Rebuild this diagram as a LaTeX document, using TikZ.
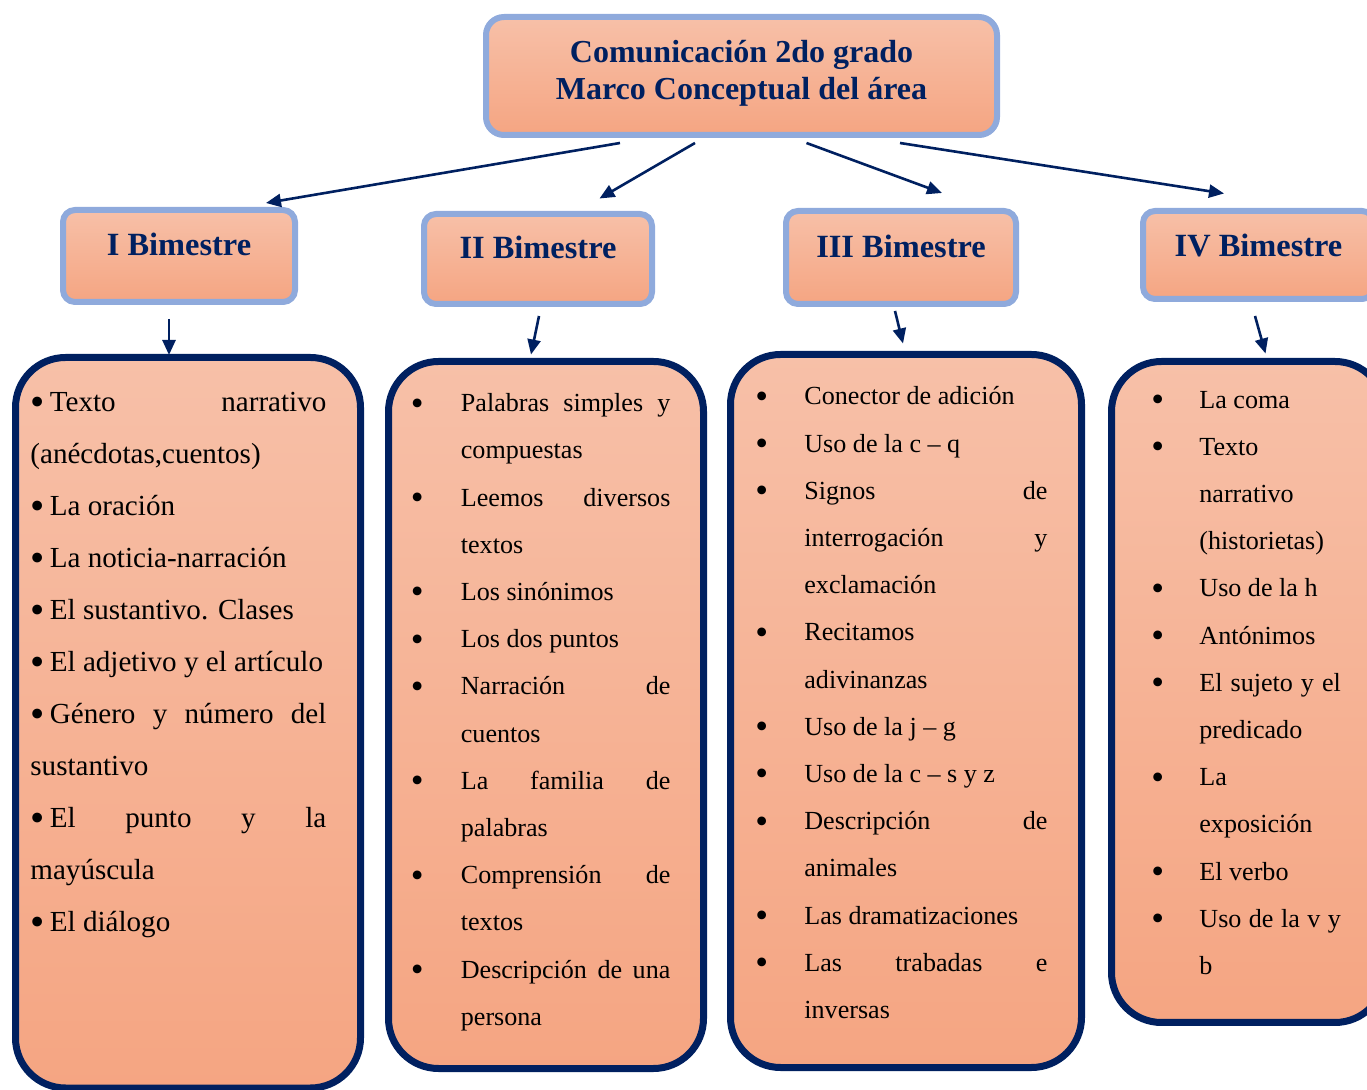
\documentclass[tikz,border=0pt]{standalone}
\usepackage{fontspec}
\setmainfont{Liberation Serif}
\usetikzlibrary{arrows.meta,calc}
\definecolor{navy}{RGB}{0,32,96}
\definecolor{skyline}{RGB}{143,170,220}
\definecolor{peachtop}{RGB}{247,192,168}
\definecolor{peachbot}{RGB}{245,165,130}
\newlength\bulw
\newlength\txtw
\newcommand{\bigdot}{\raisebox{-0.13em}{\scalebox{1.4}{\textbullet}}}
\newcommand{\jst}[1]{\hbox to\txtw{\spaceskip=0.25em plus 1fill\relax #1}}
\newcommand{\itb}[1]{\strut\hbox to\bulw{\kern-0.5pt\bigdot\hss}#1}
\newcommand{\itj}[1]{\strut\hbox to\bulw{\kern-0.5pt\bigdot\hss}\jst{#1}}
\newcommand{\itc}[1]{\strut\hspace*{\bulw}#1}
\newcommand{\itcj}[1]{\strut\hspace*{\bulw}\jst{#1}}
\newcommand{\ia}[1]{\strut\bigdot\kern2.6pt #1}
\newcommand{\iaj}[1]{\strut\jst{\bigdot\kern2.6pt #1}}

\begin{document}
\begin{tikzpicture}[x=0.5pt,y=-0.5pt,
  topbox/.style={draw=skyline,line width=3pt,rounded corners=9pt,top color=peachtop,bottom color=peachbot},
  bim/.style={draw=skyline,line width=3pt,rounded corners=6pt,top color=peachtop,bottom color=peachbot,
    text=navy,font=\fontsize{16.2}{19}\selectfont\bfseries,text height=10pt,text depth=10pt,inner sep=0pt},
  cbox/.style={draw=navy,line width=3.5pt,rounded corners=25pt,top color=peachtop,bottom color=peachbot},
  lst/.style={anchor=north west,inner sep=0pt,align=flush left,font=\fontsize{13.05}{23.6}\selectfont},
  arr/.style={navy,line width=1.3pt,-{Triangle[length=7.5pt,width=6.5pt]}}]
  \useasboundingbox (0,0) rectangle (1367,1090);

  \node[topbox,minimum width=255.5pt,minimum height=59pt] (top) at (741.5,76) {};
  \node[anchor=north,inner sep=0pt,align=center,text=navy,font=\fontsize{16}{18.8}\selectfont\bfseries] (toplbl) at (741.5,35.4)
    {\strut Comunicación 2do grado\\\strut Marco Conceptual del área};

  \node[bim,minimum width=116pt,minimum height=46pt] (b1) at (179,256) {I Bimestre};
  \node[bim,minimum width=114pt,minimum height=45pt] (b2) at (538,259) {II Bimestre};
  \node[bim,minimum width=115pt,minimum height=46.5pt] (b3) at (901,257.5) {III Bimestre};
  \node[bim,minimum width=115.5pt,minimum height=44pt,text height=11pt,text depth=9pt] (b4) at (1258.5,255) {IV Bimestre};

  \node[cbox,minimum width=172.5pt,minimum height=365.25pt] (c1) at (188,722.75) {};
  \node[cbox,minimum width=157.5pt,minimum height=353.5pt] (c2) at (546,715) {};
  \node[cbox,minimum width=175.5pt,minimum height=356.5pt] (c3) at (906,711) {};
  \node[cbox,minimum width=136.75pt,minimum height=330.5pt] (c4) at (1248.25,692) {};

  \node[lst,text width=156pt,font=\fontsize{14.55}{26}\selectfont] (l1) at (30,374.6)
    {\setlength\bulw{0pt}\setlength\txtw{148pt}%
     \iaj{Texto narrativo}\\
     \itc{(anécdotas,cuentos)}\\
     \ia{La oración}\\
     \ia{La noticia-narración}\\
     \ia{El sustantivo. Clases}\\
     \ia{El adjetivo y el artículo}\\
     \iaj{Género y número del}\\
     \itc{sustantivo}\\
     \iaj{El punto y la}\\
     \itc{mayúscula}\\
     \ia{El diálogo}};

  \node[lst,text width=134pt] (l2) at (411.5,378.3)
    {\setlength\bulw{24.5pt}\setlength\txtw{104.75pt}%
     \itj{Palabras simples y}\\
     \itc{compuestas}\\
     \itj{Leemos diversos}\\
     \itc{textos}\\
     \itb{Los sinónimos}\\
     \itb{Los dos puntos}\\
     \itj{Narración de}\\
     \itc{cuentos}\\
     \itj{La familia de}\\
     \itc{palabras}\\
     \itj{Comprensión de}\\
     \itc{textos}\\
     \itj{Descripción de una}\\
     \itc{persona}};

  \node[lst,text width=150pt] (l3) at (756,371.5)
    {\setlength\bulw{24pt}\setlength\txtw{121.5pt}%
     \itb{Conector de adición}\\
     \itb{Uso de la c – q}\\
     \itj{Signos de}\\
     \itcj{interrogación y}\\
     \itc{exclamación}\\
     \itb{Recitamos}\\
     \itc{adivinanzas}\\
     \itb{Uso de la j – g}\\
     \itb{Uso de la c – s y z}\\
     \itj{Descripción de}\\
     \itc{animales}\\
     \itb{Las dramatizaciones}\\
     \itj{Las trabadas e}\\
     \itc{inversas}};

  \node[lst,text width=100pt] (l4) at (1152,374.6)
    {\setlength\bulw{23.5pt}\setlength\txtw{70.75pt}%
     \itb{La coma}\\
     \itb{Texto}\\
     \itc{narrativo}\\
     \itc{(historietas)}\\
     \itb{Uso de la h}\\
     \itb{Antónimos}\\
     \itj{El sujeto y el}\\
     \itc{predicado}\\
     \itb{La}\\
     \itc{exposición}\\
     \itb{El verbo}\\
     \itj{Uso de la v y}\\
     \itc{b}};

  \draw[arr] ($(top.south)+(-121.5,5)$) -- ($(b1.north east)+(-32,-4)$);
  \draw[arr] ($(top.south)+(-46.5,5)$) -- ($(b2.north)+(61.5,-12.5)$);
  \draw[arr] ($(top.south)+(65,5)$) -- ($(b3.north)+(41,-15)$);
  \draw[arr] ($(top.south)+(158.5,5)$) -- ($(b4.north)+(-34.5,-14.5)$);

  \draw[arr] ($(b1.south)+(-10,14)$) -- ($(c1.north)+(-19,1)$);
  \draw[arr] ($(b2.south)+(1,9)$) -- ($(c2.north)+(-15,-3.5)$);
  \draw[arr] ($(b3.south)+(-6,4)$) -- ($(c3.north)+(-3,-7.5)$);
  \draw[arr] ($(b4.south)+(-3.5,14)$) -- ($(c4.north)+(17.25,-4.5)$);
\end{tikzpicture}
\end{document}
